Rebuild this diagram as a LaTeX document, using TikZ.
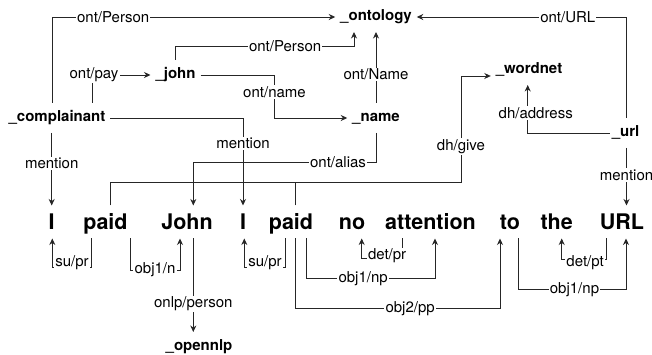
\documentclass[tikz,border=0pt]{standalone}
\usepackage{fontspec}
\setmainfont{TeX Gyre Heros}
\usetikzlibrary{arrows.meta}
\begin{document}
\begin{tikzpicture}[x=1pt,y=1pt,
  conn/.style={draw=black!85, line width=0.9pt},
  arr/.style={conn, -{Stealth[length=6.5pt,width=6pt]}},
  ent/.style={font=\fontsize{15}{18}\selectfont\bfseries, inner sep=0pt, text height=11pt, text depth=3pt, outer xsep=5pt, outer ysep=8pt},
  word/.style={font=\fontsize{21.5}{24}\selectfont\bfseries, inner sep=0pt, text height=16pt, text depth=0pt, outer sep=8.5pt, anchor=base},
  lbl/.style={font=\fontsize{15}{18}\selectfont, fill=white, inner sep=1.2pt, text=black}
]
\useasboundingbox (0,0) rectangle (652,355);
\fill[white] (0,0) rectangle (652,355);

% entity nodes
\node[ent] (ont) at (376,338) {\_ontology};
\node[ent] (john) at (175.5,280) {\_john};
\node[ent] (comp) at (57,237) {\_complainant};
\node[ent] (name) at (376,237) {\_name};
\node[ent] (wn) at (529,285) {\_wordnet};
\node[ent] (url) at (625.5,222) {\_url};
\node[ent] (onlp) at (199,8) {\_opennlp};

% words
\node[word] (w1) at (51.7,125) {I};
\node[word] (w2) at (105.5,125) {paid};
\node[word] (w3) at (187,125) {John};
\node[word] (w4) at (243,125) {I};
\node[word] (w5) at (291,125) {paid};
\node[word] (w6) at (352,125) {no};
\node[word] (w7) at (430.5,125) {attention};
\node[word] (w8) at (510,125) {to};
\node[word] (w9) at (556.7,125) {the};
\node[word] (w10) at (622,125) {URL};

% upper connectors
\draw[arr] ([xshift=-5pt]comp.north) |- node[lbl,pos=0.608]{ont/Person} (ont.west);
\draw[arr] (john.north) |- node[lbl,pos=0.807]{ont/Person} ([xshift=-22pt,yshift=-14pt]ont.south) -- ([xshift=-22pt]ont.south);
\draw[arr] ([xshift=35pt]comp.north) |- node[lbl,pos=0.5,xshift=2pt]{ont/pay} (john.west);
\draw[arr] (john.east) -- ++(74,0) |- node[lbl,pos=0.2]{ont/name} (name.west);
\draw[arr] (name.north) -- node[lbl,pos=0.4]{ont/Name} (ont.south);
\draw[arr] ([xshift=1pt]url.north) |- node[lbl,pos=0.64]{ont/URL} (ont.east);
\draw[arr, shorten <=-3pt] (url.west) -| node[lbl,pos=0.705,xshift=8pt]{dh/address} ([xshift=-1.3pt]wn.south);
\draw[arr] ([xshift=1pt]url.south) -- node[lbl,pos=0.47]{mention} ([xshift=1pt]url.south |- w10.north);
\draw[arr] (w1.north |- comp.south) -- node[lbl,pos=0.418]{mention} (w1.north);
\draw[arr] (comp.east) -| node[lbl,pos=0.645]{mention} (w4.north);
\draw[arr] (name.south) |- node[lbl,pos=0.604]{ont/alias} ([xshift=6.3pt,yshift=43.5pt]w3.north) -- ([xshift=6.3pt]w3.north);
\coordinate (g1) at (461,173);
\draw[arr] ([xshift=5.2pt]w2.north) |- (g1) |- node[lbl,pos=0.167]{dh/give} ([yshift=-6pt]wn.west);
\draw[conn] ([xshift=4.7pt]w5.north) -- ([xshift=4.7pt]w5.north |- g1);

% lower connectors
\draw[arr] ([xshift=-13.8pt]w2.south) |- node[lbl,pos=0.75,yshift=4pt]{su/pr} ([xshift=0.6pt,yshift=-28.5pt]w1.south) -- ([xshift=0.6pt]w1.south);
\draw[arr] ([xshift=24.5pt]w2.south) |- node[lbl,pos=0.75]{obj1/n} ([xshift=-7pt,yshift=-31.5pt]w3.south) -- ([xshift=-7pt]w3.south);
\draw[arr] ([xshift=6.3pt]w3.south) -- node[lbl,pos=0.70]{onlp/person} ([xshift=6.3pt]w3.south |- onlp.north);
\draw[arr] ([xshift=-5.3pt]w5.south) |- node[lbl,pos=0.75,yshift=4pt]{su/pr} ([xshift=1.3pt,yshift=-28.5pt]w4.south) -- ([xshift=1.3pt]w4.south);
\draw[arr] ([xshift=15.7pt]w5.south) |- node[lbl,pos=0.72]{obj1/np} ([xshift=4.5pt,yshift=-39.8pt]w7.south) -- ([xshift=4.5pt]w7.south);
\draw[arr] ([xshift=4.7pt]w5.south) |- node[lbl,pos=0.78]{obj2/pp} ([xshift=-10pt,yshift=-69.8pt]w8.south) -- ([xshift=-10pt]w8.south);
\draw[arr] ([xshift=-27.8pt]w7.south) |- node[lbl,pos=0.69,yshift=2pt]{det/pr} ([xshift=9.7pt,yshift=-19.5pt]w6.south) -- ([xshift=9.7pt]w6.south);
\draw[arr] ([xshift=-15.3pt]w10.south) |- node[lbl,pos=0.74,yshift=-4pt]{det/pt} ([xshift=5pt,yshift=-20.5pt]w9.south) -- ([xshift=5pt]w9.south);
\draw[arr] ([xshift=8.7pt]w8.south) |- node[lbl,pos=0.76]{obj1/np} ([xshift=4pt,yshift=-50.8pt]w10.south) -- ([xshift=4pt]w10.south);
\end{tikzpicture}
\end{document}
